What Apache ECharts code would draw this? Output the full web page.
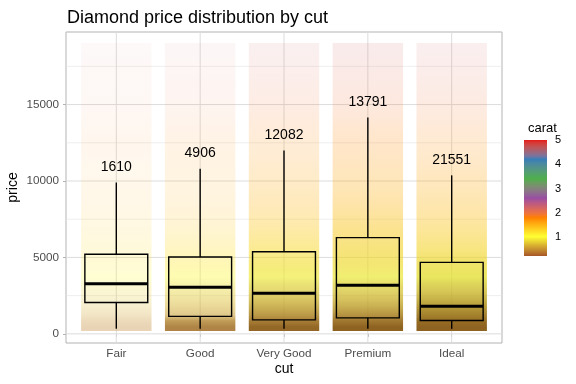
<!DOCTYPE html>
<html><head><meta charset="utf-8">
<script src="https://cdn.jsdelivr.net/npm/echarts@6/dist/echarts.min.js"></script>
<style>html,body{margin:0;padding:0;background:#fff}#c{width:576px;height:384px}</style>
</head><body><div id="c"></div>
<script>
// ---- data ----
const cuts = ['Fair', 'Good', 'Very Good', 'Premium', 'Ideal'];
const counts = [1610, 4906, 12082, 13791, 21551];
const boxMin = [337, 327, 336, 326, 326];
const boxQ1 = [2050, 1145, 912, 1046, 878];
const boxMedian = [3282, 3050, 2648, 3185, 1810];
const boxQ3 = [5206, 5028, 5373, 6296, 4678];
const boxUpper = [9900, 10800, 12000, 14150, 10370];
const priceRange = [326, 18823];
const yTicks = [0, 5000, 10000, 15000];
const yMinor = [2500, 7500, 12500, 17500];
// jittered point cloud summarised as density bands (price bins)
const priceBreaks = [200, 700, 1000, 1500, 2000, 2500, 3000, 3500, 4000, 4500, 5000, 6000, 7000, 8000, 9000, 10000, 11000, 12000, 13000, 14000, 15000, 16000, 17000, 18000, 19000];
const binCarat = [0.42, 0.48, 0.56, 0.66, 0.74, 0.8, 0.88, 1.02, 1.1, 1.16, 1.22, 1.3, 1.38, 1.46, 1.52, 1.58, 1.66, 1.74, 1.82, 1.9, 1.98, 2.05, 2.12, 2.2];
const densFair = [0.35, 0.33, 0.28, 0.24, 0.22, 0.22, 0.22, 0.22, 0.2, 0.2, 0.17, 0.14, 0.12, 0.1, 0.09, 0.08, 0.07, 0.07, 0.06, 0.06, 0.05, 0.05, 0.05, 0.04];
const densGood = [0.85, 0.78, 0.55, 0.5, 0.45, 0.42, 0.4, 0.38, 0.36, 0.34, 0.28, 0.22, 0.18, 0.15, 0.13, 0.12, 0.11, 0.1, 0.09, 0.08, 0.07, 0.07, 0.06, 0.06];
const densVeryGood = [0.98, 0.92, 0.85, 0.8, 0.74, 0.68, 0.66, 0.64, 0.62, 0.58, 0.5, 0.41, 0.34, 0.29, 0.25, 0.21, 0.18, 0.16, 0.15, 0.14, 0.13, 0.12, 0.11, 0.1];
const densPremium = [1.0, 0.95, 0.88, 0.82, 0.76, 0.72, 0.7, 0.68, 0.66, 0.64, 0.6, 0.52, 0.44, 0.37, 0.31, 0.27, 0.24, 0.21, 0.19, 0.17, 0.16, 0.15, 0.14, 0.13];
const densIdeal = [1.0, 0.99, 0.96, 0.92, 0.86, 0.8, 0.78, 0.76, 0.72, 0.67, 0.58, 0.48, 0.4, 0.34, 0.29, 0.25, 0.21, 0.18, 0.16, 0.15, 0.14, 0.13, 0.12, 0.11];
const caratRange = [0.2, 5.01];
const caratTicks = [1, 2, 3, 4, 5];
const caratColors = ['#A65628', '#FFFF33', '#FF7F00', '#984EA3', '#4DAF4A', '#377EB8', '#E41A1C'];

// ---- colour scale (Lab interpolation like ggplot's gradientn) ----
function hex2rgb(h){return [parseInt(h.substr(1,2),16),parseInt(h.substr(3,2),16),parseInt(h.substr(5,2),16)];}
function s2l(c){c/=255;return c<=0.04045?c/12.92:Math.pow((c+0.055)/1.055,2.4);}
function l2s(c){c=c<=0.0031308?12.92*c:1.055*Math.pow(c,1/2.4)-0.055;return Math.round(Math.max(0,Math.min(1,c))*255);}
function f(t){return t>0.008856?Math.cbrt(t):7.787*t+16/116;}
function finv(t){const t3=t*t*t;return t3>0.008856?t3:(t-16/116)/7.787;}
function rgb2lab(rgb){const r=s2l(rgb[0]),g=s2l(rgb[1]),b=s2l(rgb[2]);
  const X=(0.4124*r+0.3576*g+0.1805*b)/0.95047,Y=0.2126*r+0.7152*g+0.0722*b,Z=(0.0193*r+0.1192*g+0.9505*b)/1.08883;
  return [116*f(Y)-16,500*(f(X)-f(Y)),200*(f(Y)-f(Z))];}
function lab2rgb(lab){const fy=(lab[0]+16)/116,fx=fy+lab[1]/500,fz=fy-lab[2]/200;
  const X=0.95047*finv(fx),Y=finv(fy),Z=1.08883*finv(fz);
  return [l2s(3.2406*X-1.5372*Y-0.4986*Z),l2s(-0.9689*X+1.8758*Y+0.0415*Z),l2s(0.0557*X-0.2040*Y+1.0570*Z)];}
const labStops = caratColors.map(h=>rgb2lab(hex2rgb(h)));
function caratRGB(c){
  let t=(c-caratRange[0])/(caratRange[1]-caratRange[0]);t=Math.max(0,Math.min(1,t));
  const pos=t*(labStops.length-1);const i=Math.min(Math.floor(pos),labStops.length-2);const u=pos-i;
  const a=labStops[i],b=labStops[i+1];
  return lab2rgb([a[0]+(b[0]-a[0])*u,a[1]+(b[1]-a[1])*u,a[2]+(b[2]-a[2])*u]);}
function rgba(c,op){const r=caratRGB(c);return 'rgba('+r[0]+','+r[1]+','+r[2]+','+op+')';}
// dense overplotting looks darker in the reference
function cloudRGBA(c,op){const r=caratRGB(c);const k=1-0.26*op*op*op;
  return 'rgba('+Math.round(r[0]*k)+','+Math.round(r[1]*k)+','+Math.round(r[2]*k)+','+op+')';}

// ---- build series data ----
const dens = [densFair, densGood, densVeryGood, densPremium, densIdeal];
const cloudData = [];
const centers = binCarat.map((_,j)=>(priceBreaks[j]+priceBreaks[j+1])/2);
const nb = binCarat.length;
dens.forEach((d,i)=>{
  const x=i+1;
  cloudData.push([x, priceBreaks[0], centers[0], d[0], d[0], binCarat[0], binCarat[0]]);
  for(let j=0;j<nb-1;j++) cloudData.push([x, centers[j], centers[j+1], d[j], d[j+1], binCarat[j], binCarat[j+1]]);
  cloudData.push([x, centers[nb-1], priceBreaks[nb], d[nb-1], d[nb-1], binCarat[nb-1], binCarat[nb-1]]);
});
const boxData = cuts.map((c,i)=>[i+1, boxMin[i], boxQ1[i], boxMedian[i], boxQ3[i], boxUpper[i], counts[i]]);
const span = priceRange[1]-priceRange[0];
const yMin = priceRange[0]-0.05*span, yMax = priceRange[1]+0.05*span;
const FONT = 'Liberation Sans, Arial, sans-serif';
const JIT = 0.42, BOXW = 0.375;

const chart = echarts.init(document.getElementById('c'), null, {renderer:'canvas'});
chart.setOption({
  animation:false,
  backgroundColor:'#fff',
  textStyle:{fontFamily:FONT},
  title:[
    {text:'Diamond price distribution by cut', left:62, top:4, textStyle:{fontFamily:FONT,fontSize:18,fontWeight:'normal',color:'#000'}},
    {text:'carat', left:523, top:117, textStyle:{fontFamily:FONT,fontSize:13,fontWeight:'normal',color:'#000'}}
  ],
  grid:[
    {left:66, top:32, width:436, height:311, show:true, borderColor:'#b3b3b3', borderWidth:1, backgroundColor:'transparent', containLabel:false, outerBoundsMode:'none'},
    {left:524, top:140, width:23, height:116, show:false, containLabel:false, outerBoundsMode:'none'}
  ],
  xAxis:[
    {type:'value', gridIndex:0, min:0.4, max:5.6, name:'cut', nameLocation:'middle', nameGap:19, nameMoveOverlap:false,
     nameTextStyle:{fontFamily:FONT,fontSize:14,color:'#000'},
     axisLine:{show:false}, splitLine:{show:false},
     axisTick:{show:true, customValues:[1,2,3,4,5], length:3, lineStyle:{color:'#b3b3b3'}},
     axisLabel:{customValues:[1,2,3,4,5], formatter:v=>cuts[Math.round(v)-1]||'', color:'#4d4d4d', fontSize:11.7, margin:5, fontFamily:FONT}},
    {type:'value', gridIndex:1, min:0, max:1, show:false}
  ],
  yAxis:[
    {type:'value', gridIndex:0, min:yMin, max:yMax, name:'price', nameLocation:'middle', nameGap:46, nameMoveOverlap:false,
     nameTextStyle:{fontFamily:FONT,fontSize:14,color:'#000'},
     axisLine:{show:false}, splitLine:{show:false},
     axisTick:{show:true, customValues:yTicks, length:3, lineStyle:{color:'#b3b3b3'}},
     axisLabel:{customValues:yTicks, formatter:v=>String(v), color:'#4d4d4d', fontSize:11.7, margin:7, fontFamily:FONT}},
    {type:'value', gridIndex:1, min:caratRange[0], max:caratRange[1], position:'right',
     axisLine:{show:false}, splitLine:{show:false},
     axisTick:{show:true, inside:true, customValues:caratTicks, length:4, lineStyle:{color:'#fff',width:1}},
     axisLabel:{customValues:caratTicks, formatter:v=>String(v), color:'#000', fontSize:11, margin:8, fontFamily:FONT}},
    {type:'value', gridIndex:1, min:caratRange[0], max:caratRange[1], position:'left',
     axisLine:{show:false}, splitLine:{show:false},
     axisTick:{show:true, inside:true, customValues:caratTicks, length:4, lineStyle:{color:'#fff',width:1}},
     axisLabel:{show:false}}
  ],
  series:[
    { // gridlines
      type:'custom', xAxisIndex:0, yAxisIndex:0, silent:true, z:1,
      data:[0],
      renderItem:(params, api)=>{
        const cs=params.coordSys; const ch=[];
        yMinor.forEach(v=>{const y=api.coord([1,v])[1];ch.push({type:'line',shape:{x1:cs.x,y1:y,x2:cs.x+cs.width,y2:y},style:{stroke:'#e3e3e3',lineWidth:0.6}});});
        yTicks.forEach(v=>{const y=api.coord([1,v])[1];ch.push({type:'line',shape:{x1:cs.x,y1:y,x2:cs.x+cs.width,y2:y},style:{stroke:'#dcdcdc',lineWidth:1}});});
        cuts.forEach((c,i)=>{const x=api.coord([i+1,0])[0];ch.push({type:'line',shape:{x1:x,y1:cs.y,x2:x,y2:cs.y+cs.height},style:{stroke:'#dcdcdc',lineWidth:1}});});
        return {type:'group',children:ch};
      }
    },
    { // jittered points summarised as density bands
      type:'custom', xAxisIndex:0, yAxisIndex:0, silent:true, z:2,
      data:cloudData,
      encode:{x:0,y:[1,2]},
      renderItem:(params, api)=>{
        const x=api.value(0), lo=api.value(1), hi=api.value(2);
        const p1=api.coord([x-JIT,hi]), p2=api.coord([x+JIT,lo]);
        const y1=Math.round(p1[1]), y2=Math.round(p2[1]);
        return {type:'rect', shape:{x:p1[0], y:y1, width:p2[0]-p1[0], height:y2-y1},
          style:{fill:{type:'linear',x:0,y:0,x2:0,y2:1,colorStops:[
            {offset:0,color:cloudRGBA(api.value(6),api.value(4))},
            {offset:1,color:cloudRGBA(api.value(5),api.value(3))}]}}};
      }
    },
    { // boxplots
      type:'custom', xAxisIndex:0, yAxisIndex:0, silent:true, z:3,
      data:boxData,
      renderItem:(params, api)=>{
        const x=api.value(0);
        const c=api.coord([x,0])[0];
        const xl=api.coord([x-BOXW,0])[0], xr=api.coord([x+BOXW,0])[0];
        const yMn=api.coord([x,api.value(1)])[1], yQ1=api.coord([x,api.value(2)])[1], yMd=api.coord([x,api.value(3)])[1],
              yQ3=api.coord([x,api.value(4)])[1], yUp=api.coord([x,api.value(5)])[1];
        const lab=api.coord([x,api.value(5)+1000]);
        const st={stroke:'#000',lineWidth:1.4,fill:null};
        return {type:'group',children:[
          {type:'line',shape:{x1:c,y1:yMn,x2:c,y2:yQ1},style:st},
          {type:'line',shape:{x1:c,y1:yQ3,x2:c,y2:yUp},style:st},
          {type:'rect',shape:{x:xl,y:yQ3,width:xr-xl,height:yQ1-yQ3},style:{stroke:'#000',lineWidth:1.4,fill:'transparent'}},
          {type:'line',shape:{x1:xl,y1:yMd,x2:xr,y2:yMd},style:{stroke:'#000',lineWidth:3}},
          {type:'text',x:lab[0],y:lab[1],style:{text:String(api.value(6)),fontFamily:FONT,fontSize:14,fill:'#000',align:'center',verticalAlign:'middle'}}
        ]};
      }
    },
    { // colour bar
      type:'custom', xAxisIndex:1, yAxisIndex:1, silent:true, z:2,
      data:[0],
      renderItem:(params, api)=>{
        const cs=params.coordSys; const stops=[];
        for(let k=0;k<=48;k++){const t=k/48;stops.push({offset:t,color:rgba(caratRange[0]+t*(caratRange[1]-caratRange[0]),1)});}
        return {type:'rect',shape:{x:cs.x,y:cs.y,width:cs.width,height:cs.height},
          style:{fill:{type:'linear',x:0,y:1,x2:0,y2:0,colorStops:stops}}};
      }
    }
  ]
});
</script></body></html>
